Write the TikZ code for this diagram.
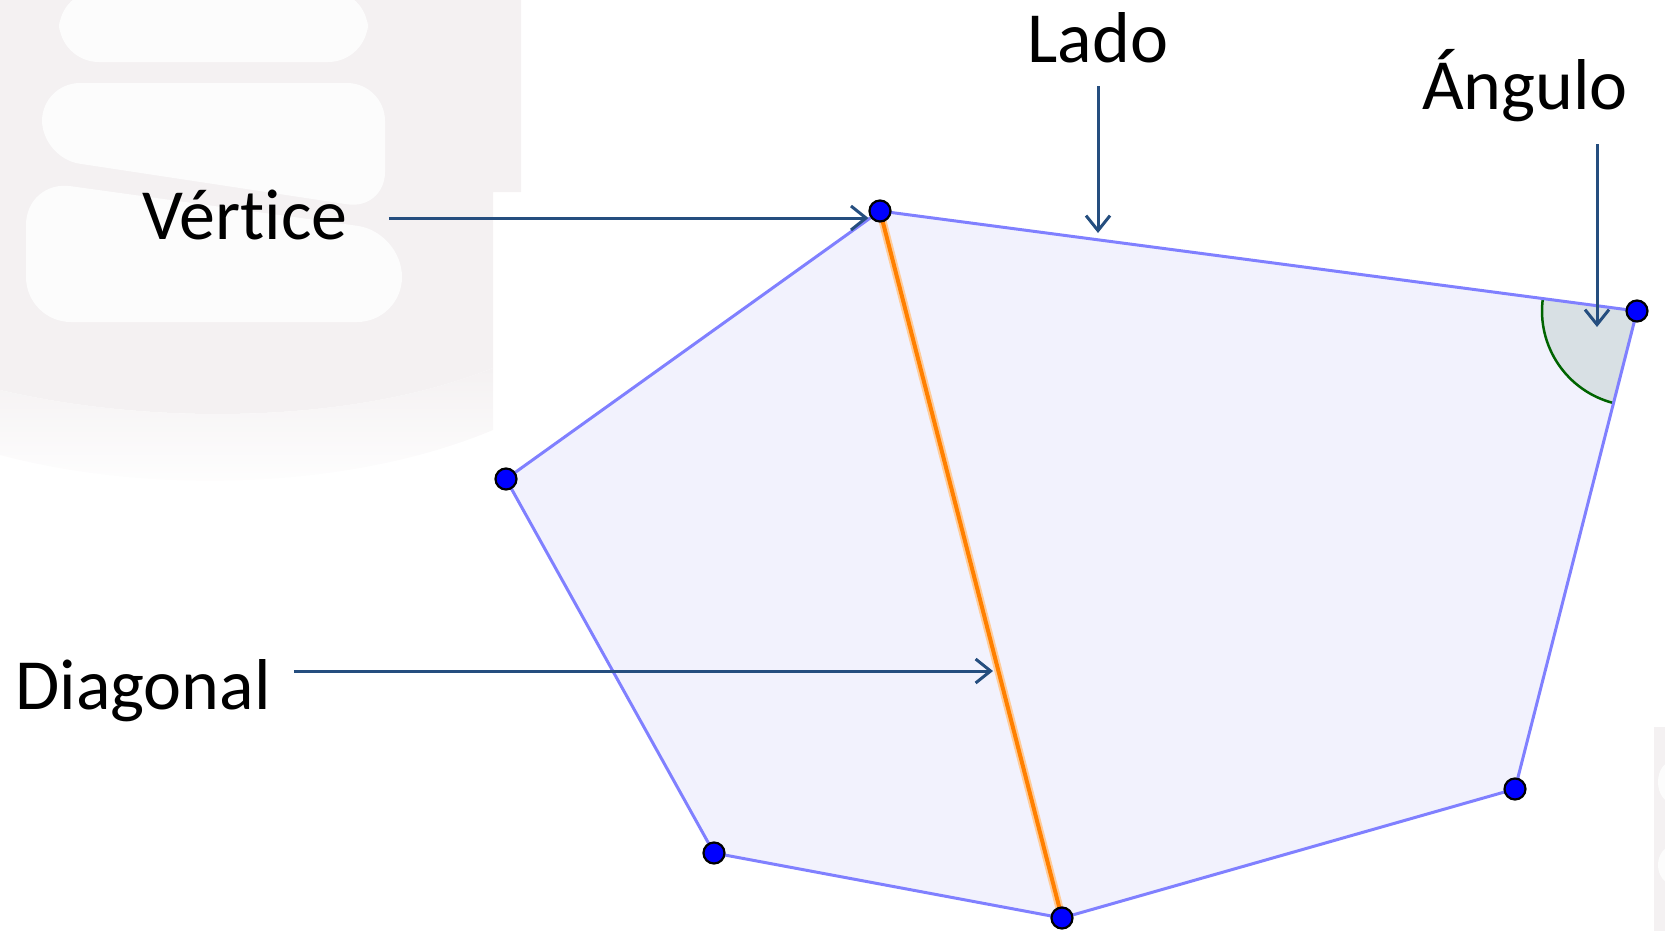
\documentclass[tikz,border=0pt]{standalone}
\usepackage{fontspec}
\setmainfont{Carlito}[Ligatures=NoCommon]
\usetikzlibrary{arrows.meta, calc}

\definecolor{wmgrey}{RGB}{244,241,242}
\definecolor{wmwhite}{RGB}{252,252,252}
\definecolor{sidecol}{RGB}{128,128,255}
\definecolor{polyfill}{RGB}{242,242,253}
\definecolor{anglefill}{RGB}{216,224,228}
\definecolor{anglecol}{RGB}{0,100,0}
\definecolor{diagcol}{RGB}{255,128,0}
\definecolor{pointcol}{RGB}{37,78,127}

\begin{document}
\begin{tikzpicture}[x=1pt, y=1pt, >=Stealth,
    lbl/.style={font=\fontsize{72}{80}\selectfont, inner sep=0pt, anchor=base},
    side/.style={sidecol, line width=3pt, line join=round},
    vdot/.style={circle, fill=blue, draw=black, line width=2.2pt, minimum size=21pt, inner sep=0pt},
    pointer/.style={pointcol, line width=3pt, -{Straight Barb[length=15pt, width=24pt]}}]
      \useasboundingbox (0,0) rectangle (1665,-930);

      % faint watermark behind
      \fill[wmgrey] (0,0) -- (521,0) -- (521,-192) -- (493,-192) -- (493,-368)
        .. controls (350,-425) and (150,-425) .. (0,-390) -- cycle;
      \shade[top color=wmgrey, bottom color=white] (493,-368)
        .. controls (350,-425) and (150,-425) .. (0,-390) -- (0,-455)
        .. controls (150,-495) and (350,-490) .. (493,-430) -- cycle;
      \fill[wmwhite, rounded corners=40pt] (59,10) -- (368,10) -- (368,-62) -- (59,-62) -- cycle;
      \fill[wmwhite, rounded corners=38pt] (42,-83) -- (385,-83) -- (385,-210) -- (42,-158) -- cycle;
      \fill[wmwhite, rounded corners=45pt] (26,-180) -- (402,-232) -- (402,-322) -- (26,-322) -- cycle;
      \begin{scope}
        \clip (0,0) rectangle (1665,-930);
        \fill[wmgrey] (1654,-727) rectangle (1670,-935);
        \fill[wmwhite] (1673,-782) ellipse [x radius=15, y radius=21];
        \fill[wmwhite] (1673,-865) ellipse [x radius=15, y radius=19];
      \end{scope}

      % polygon
      \coordinate (A) at (880,-211);
      \coordinate (B) at (1637,-311);
      \coordinate (C) at (1515,-789);
      \coordinate (D) at (1062,-918);
      \coordinate (E) at (714,-853);
      \coordinate (F) at (506,-479);

      \fill[polyfill] (A) -- (B) -- (C) -- (D) -- (E) -- (F) -- cycle;
      \fill[anglefill] (B) -- ++(172.48:95) arc[start angle=172.48, end angle=255.68, radius=95] -- cycle;
      \draw[anglecol, line width=2.5pt] (B) ++(172.48:95) arc[start angle=172.48, end angle=255.68, radius=95];
      \draw[side] (A) -- (B) -- (C) -- (D) -- (E) -- (F) -- cycle;
      \draw[diagcol!40, line width=8pt] (A) -- (D);
      \draw[diagcol, line width=4pt] (A) -- (D);
      \foreach \p in {A,...,F}
        \node[vdot] (dot\p) at (\p) {};

      % labels
      \node[lbl] (lado) at (1098,-62) {Lado};
      \node[lbl] (angulo) at (1525,-109) {Ángulo};
      \node[lbl] (vertice) at (245,-239) {Vértice};
      \node[lbl] (diagonal) at (143,-709) {Diagonal};

      \coordinate (ladotip) at (1098,-233);
      \coordinate (angtip) at (1597,-327);
      \coordinate (diagtip) at (993,-671);
      \coordinate (vtail) at ([shift={(41pt,21pt)}]vertice.base east);

      \draw[pointer] ([yshift=-24pt]lado.base) -- (ladotip);
      \draw[pointer] ([shift={(72pt,-35pt)}]angulo.base) -- (angtip);
      \draw[pointer] (vtail) -- (vtail -| dotA.west);
      \draw[pointer] ([shift={(23pt,38pt)}]diagonal.base east) -- (diagtip);
    \end{tikzpicture}
\end{document}
